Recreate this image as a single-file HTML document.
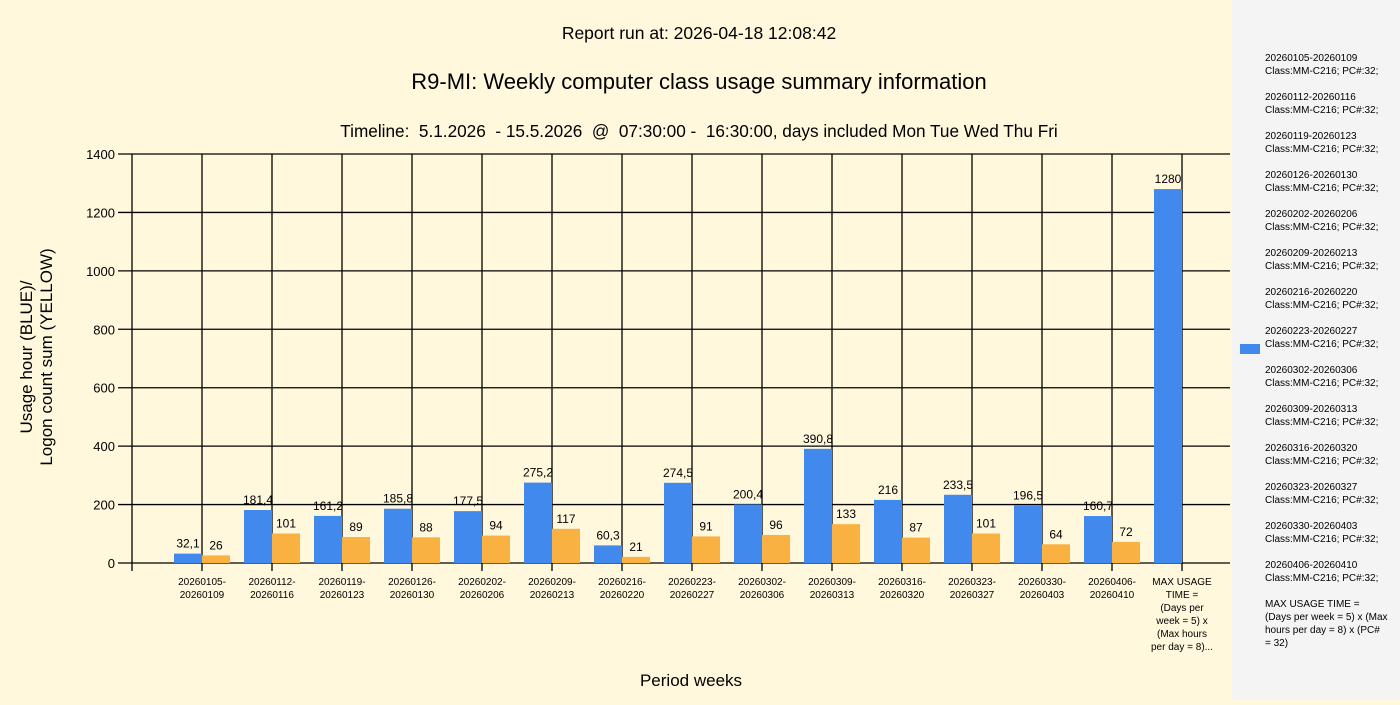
<!DOCTYPE html>
<html><head><meta charset="utf-8"><style>
body{margin:0;width:1400px;height:700px;overflow:hidden;background:#fff8dc;font-family:"Liberation Sans",sans-serif}
</style></head><body>
<svg width="1400" height="700" xmlns="http://www.w3.org/2000/svg" font-family="Liberation Sans, sans-serif">
<rect width="1400" height="700" fill="#fff8dc"/>
<rect x="1232" y="0" width="168" height="700" fill="#f4f4f4"/>
<text x="699" y="39" font-size="17.5" text-anchor="middle">Report run at: 2026-04-18 12:08:42</text>
<text x="699" y="89" font-size="22" text-anchor="middle">R9-MI: Weekly computer class usage summary information</text>
<text x="699" y="137" font-size="17.2" text-anchor="middle" xml:space="preserve">Timeline:  5.1.2026  - 15.5.2026  @  07:30:00 -  16:30:00, days included Mon Tue Wed Thu Fri</text>
<text x="691" y="686" font-size="17" text-anchor="middle">Period weeks</text>
<g transform="translate(32,357) rotate(-90)"><text x="0" y="0" font-size="17" text-anchor="middle">Usage hour (BLUE)/</text><text x="0" y="20" font-size="17" text-anchor="middle">Logon count sum (YELLOW)</text></g>
<g id="plot"></g>
</svg>
<script>
const NS="http://www.w3.org/2000/svg";
const p=document.getElementById('plot');
function el(t,a,txt){const e=document.createElementNS(NS,t);for(const k in a)e.setAttribute(k,a[k]);if(txt!==undefined)e.textContent=txt;p.appendChild(e);return e;}
const y0=563,sc=409/1400;
for(let v=0;v<=1400;v+=200){const y=y0-v*sc;el('line',{x1:118,x2:1230,y1:y,y2:y,stroke:'#000','stroke-width':1.3});el('text',{x:115,y:y+5,'font-size':13,'text-anchor':'end'},v);}
el('line',{x1:132,x2:132,y1:154,y2:571,stroke:'#000','stroke-width':1.3});
for(let i=0;i<15;i++){const x=202+70*i;el('line',{x1:x,x2:x,y1:154,y2:571,stroke:'#000','stroke-width':1.3});}
const b=[32.1,181.4,161.2,185.8,177.5,275.2,60.3,274.5,200.4,390.8,216,233.5,196.5,160.7,1280];
const o=[26,101,89,88,94,117,21,91,96,133,87,101,64,72,null];
const lab=['20260105-20260109','20260112-20260116','20260119-20260123','20260126-20260130','20260202-20260206','20260209-20260213','20260216-20260220','20260223-20260227','20260302-20260306','20260309-20260313','20260316-20260320','20260323-20260327','20260330-20260403','20260406-20260410'];
for(let i=0;i<15;i++){const c=202+70*i;const h=b[i]*sc;
el('rect',{x:c-28,y:y0-h,width:28,height:h,fill:'#4189ec'});
el('text',{x:c-14,y:y0-h-6,'font-size':12,'text-anchor':'middle'},String(b[i]).replace('.',','));
if(o[i]!=null){const h2=o[i]*sc;el('rect',{x:c,y:y0-h2,width:28,height:h2,fill:'#f9b142'});el('text',{x:c+14,y:y0-h2-6,'font-size':12,'text-anchor':'middle'},o[i]);}
if(i<14){const [a,bb]=lab[i].split('-');el('text',{x:c,y:585,'font-size':10,'text-anchor':'middle'},a+'-');el('text',{x:c,y:598,'font-size':10,'text-anchor':'middle'},bb);}
else{['MAX USAGE','TIME =','(Days per','week = 5) x','(Max hours','per day = 8)...'].forEach((t,k)=>el('text',{x:c,y:585+13*k,'font-size':10,'text-anchor':'middle'},t));}
}
el('rect',{x:1240,y:344,width:20,height:10,fill:'#4189ec'});
lab.forEach((l,i)=>{const y=61+39*i;el('text',{x:1265,y:y,'font-size':10},l);el('text',{x:1265,y:y+13,'font-size':10},'Class:MM-C216; PC#:32;');});
['MAX USAGE TIME =',' (Days per week = 5) x (Max','hours per day = 8) x (PC#','= 32)'].forEach((t,k)=>el('text',{x:1265,y:607+13*k,'font-size':10,'xml:space':'preserve'},t));
</script>
</body></html>
